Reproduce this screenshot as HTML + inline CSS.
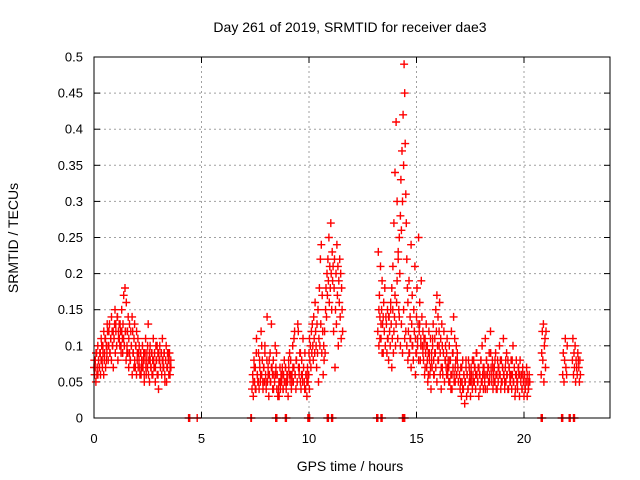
<!DOCTYPE html>
<html><head><meta charset="utf-8"><style>
body{margin:0;background:#fff}
svg{display:block;font-family:"Liberation Sans",sans-serif}
</style></head><body>
<svg id="chart" width="640" height="480" viewBox="0 0 640 480">
<text x="350" y="32" font-size="14" text-anchor="middle">Day 261 of 2019, SRMTID for receiver dae3</text>
<text x="18" y="238" font-size="14" text-anchor="middle" transform="rotate(-90 18 238)">SRMTID / TECUs</text>
<text x="350" y="471" font-size="14" text-anchor="middle">GPS time / hours</text>
<g id="grid"></g>
<g id="marks"></g>
<rect x="94" y="57" width="516" height="361" fill="none" stroke="#000"/>
</svg>
<script>
const xTicks=[0,5,10,15,20];
const yTicks=[0,0.05,0.1,0.15,0.2,0.25,0.3,0.35,0.4,0.45,0.5];
const yTickLabels=["0","0.05","0.1","0.15","0.2","0.25","0.3","0.35","0.4","0.45","0.5"];
const segStarts=[0,0.015,7.35,7.4,10.0,13.2,13.25,17.0,17.05,20.8,21.8,22.25];
const segSteps=[0.03,0.04,0.03,0.05,0.022,0.025,0.05,0.03,0.05,0.025,0.03,0.025];
const segA1=[0.07,0.06,0.08,0.05,0.09,0.07,0.06,0.08,0.07,0.09,0.06,0.08,0.10,0.07,0.09,0.06,0.08,0.11,0.07,0.10,0.09,0.12,0.08,0.10,0.13,0.09,0.11,0.08,0.12,0.10,0.07,0.11,0.13,0.09,0.12,0.10,0.14,0.08,0.11,0.13,0.10,0.12,0.09,0.15,0.11,0.13,0.17,0.10,0.18,0.12,0.16,0.09,0.12,0.14,0.11,0.13,0.08,0.12,0.10,0.14,0.12,0.09,0.11,0.13,0.07,0.10,0.12,0.08,0.11,0.09,0.10,0.07,0.09,0.06,0.08,0.10,0.07,0.09,0.05,0.08,0.11,0.06,0.09,0.07,0.13,0.08,0.05,0.10,0.07,0.09,0.06,0.08,0.11,0.07,0.09,0.05,0.10,0.08,0.06,0.09,0.04,0.08,0.10,0.07,0.09,0.06,0.11,0.08,0.07,0.09,0.05,0.08,0.10,0.07,0.09,0.08,0.06,0.09,0.07,0.08];
const segA2=[0.08,0.07,0.09,0.06,0.10,0.08,0.07,0.09,0.11,0.08,0.10,0.12,0.09,0.11,0.08,0.13,0.10,0.12,0.09,0.11,0.14,0.10,0.12,0.11,0.15,0.13,0.10,0.14,0.12,0.11,0.13,0.10,0.12,0.09,0.11,0.10,0.12,0.08,0.10,0.09,0.07,0.09,0.08,0.10,0.06,0.09,0.07,0.08,0.10,0.06,0.09,0.07,0.08,0.06,0.09,0.07,0.10,0.08,0.06,0.09,0.07,0.08,0.10,0.06,0.09,0.08,0.07,0.09,0.06,0.08,0.09,0.07,0.08,0.10,0.06,0.09,0.08,0.07,0.09,0.08,0.07,0.09,0.06,0.08,0.05,0.07,0.09,0.08,0.06,0.07];
const segB1=[0.04,0.06,0.03,0.08,0.05,0.07,0.04,0.11,0.06,0.05,0.09,0.04,0.07,0.05,0.12,0.06,0.08,0.04,0.07,0.05,0.10,0.06,0.04,0.08,0.05,0.07,0.03,0.06,0.09,0.05,0.13,0.07,0.04,0.08,0.06,0.05,0.10,0.07,0.09,0.06,0.03,0.04,0.03,0.05,0.04,0.06,0.05,0.07,0.04,0.06,0.08,0.05,0.07,0.04,0.06,0.05,0.03,0.07,0.06,0.05,0.08,0.04,0.06,0.10,0.05,0.07,0.12,0.06,0.04,0.08,0.05,0.13,0.07,0.06,0.09,0.05,0.04,0.08,0.06,0.11,0.07,0.05,0.09,0.04,0.06,0.03,0.07,0.05,0.06,0.04];
const segB2=[0.05,0.07,0.04,0.09,0.06,0.05,0.08,0.06,0.10,0.05,0.07,0.09,0.05,0.14,0.06,0.08,0.05,0.07,0.06,0.04,0.05,0.06,0.04,0.03,0.05,0.07,0.05,0.06,0.04,0.05,0.07,0.05,0.06,0.08,0.09,0.06,0.05,0.07,0.11,0.06,0.08,0.05,0.12,0.07,0.09,0.06,0.05,0.07,0.04,0.06,0.05,0.06];
const segC=[0.09,0.11,0.08,0.10,0.07,0.12,0.09,0.13,0.10,0.08,0.14,0.11,0.09,0.16,0.12,0.10,0.07,0.13,0.09,0.15,0.05,0.11,0.18,0.10,0.22,0.13,0.24,0.09,0.17,0.12,0.06,0.10,0.08,0.12,0.09,0.15,0.18,0.14,0.20,0.17,0.22,0.19,0.25,0.16,0.21,0.18,0.27,0.20,0.15,0.23,0.19,0.21,0.12,0.18,0.22,0.07,0.15,0.20,0.13,0.24,0.17,0.21,0.10,0.19,0.16,0.22,0.14,0.20,0.11,0.18,0.15,0.12];
const segD1=[0.12,0.23,0.10,0.17,0.14,0.21,0.11,0.15,0.19,0.13,0.09,0.16,0.12,0.18,0.10,0.14,0.13,0.09,0.15,0.11,0.08,0.14,0.12,0.10,0.16,0.13,0.07,0.11,0.15,0.09,0.12,0.14,0.17,0.10,0.13,0.16,0.19,0.11,0.22,0.15,0.25,0.20,0.28,0.33,0.26,0.37,0.30,0.42,0.35,0.49,0.45,0.38,0.31,0.27,0.22,0.18,0.16,0.12,0.19,0.09,0.14,0.11,0.24,0.13,0.17,0.10,0.08,0.15,0.12,0.21,0.11,0.09,0.14,0.18,0.10,0.13,0.25,0.12,0.16,0.08,0.11,0.19,0.14,0.10,0.12,0.08,0.10,0.06,0.11,0.09,0.13,0.07,0.10,0.05,0.09,0.12,0.08,0.06,0.11,0.04,0.09,0.07,0.10,0.13,0.08,0.06,0.11,0.09,0.15,0.12,0.17,0.10,0.14,0.08,0.12,0.16,0.09,0.11,0.07,0.13,0.10,0.06,0.09,0.12,0.05,0.08,0.10,0.07,0.09,0.11,0.06,0.08,0.07,0.10,0.05,0.08,0.06,0.12,0.04,0.09,0.07,0.14,0.06,0.11,0.05,0.08,0.10,0.06,0.09,0.07];
const segD2=[0.15,0.11,0.13,0.09,0.14,0.12,0.10,0.13,0.11,0.14,0.12,0.15,0.18,0.21,0.27,0.34,0.41,0.30,0.23,0.14,0.10,0.13,0.09,0.15,0.11,0.12,0.10,0.08,0.09,0.11,0.07,0.10,0.08,0.12,0.06,0.09,0.11,0.08,0.13,0.10,0.14,0.09,0.11,0.07,0.10,0.08,0.06,0.09,0.07,0.08,0.11,0.06,0.09,0.07,0.05,0.08,0.10,0.06,0.04,0.07,0.09,0.05,0.08,0.06,0.07,0.05,0.08,0.04,0.06,0.09,0.05,0.07,0.06,0.08,0.05];
const segE1=[0.06,0.04,0.07,0.03,0.05,0.08,0.04,0.06,0.02,0.05,0.07,0.03,0.06,0.04,0.08,0.05,0.06,0.03,0.07,0.05,0.04,0.06,0.08,0.05,0.07,0.04,0.09,0.06,0.05,0.07,0.03,0.06,0.04,0.08,0.05,0.10,0.06,0.04,0.07,0.05,0.11,0.06,0.08,0.04,0.07,0.05,0.09,0.06,0.12,0.07,0.05,0.08,0.04,0.06,0.07,0.05,0.09,0.04,0.06,0.08,0.05,0.07,0.10,0.06,0.04,0.08,0.05,0.07,0.11,0.06,0.04,0.07,0.05,0.09,0.06,0.08,0.04,0.07,0.06,0.05,0.08,0.04,0.06,0.10,0.05,0.07,0.03,0.06,0.08,0.05,0.04,0.07,0.06,0.03,0.08,0.05,0.06,0.04,0.07,0.05,0.03,0.06,0.04,0.05,0.07,0.03,0.05,0.04,0.06,0.05];
const segE2=[0.05,0.07,0.04,0.06,0.05,0.08,0.06,0.04,0.07,0.05,0.06,0.08,0.05,0.07,0.06,0.09,0.05,0.07,0.06,0.08,0.05,0.07,0.06,0.04,0.08,0.06,0.07,0.05,0.09,0.06,0.07,0.05,0.08,0.06,0.04,0.07,0.06,0.08,0.05,0.07,0.06,0.05,0.08,0.06,0.04,0.07,0.05,0.06,0.08,0.05,0.07,0.04,0.06,0.05,0.07,0.06,0.05,0.04,0.06,0.05,0.04,0.05,0.06,0.04,0.05];
const segF1=[0.06,0.09,0.12,0.08,0.13,0.05,0.10,0.11,0.07,0.12];
const segF2=[0.06,0.09,0.05,0.08,0.11,0.07,0.06,0.10];
const segF3=[0.08,0.11,0.06,0.09,0.07,0.10,0.05,0.08,0.07,0.06,0.09,0.08,0.07,0.05,0.08,0.06];
const zeroHours=[4.4,4.45,4.8,7.3,7.32,8.45,8.5,8.9,8.95,9.95,10.0,10.03,10.85,10.9,11.05,11.1,13.15,13.2,13.35,13.4,14.35,14.4,14.45,20.8,20.85,21.75,21.8,22.1,22.15,22.3,22.35];

const NS="http://www.w3.org/2000/svg";
const X0=94,X1=610,Y0=418,Y1=57,XMAX=24,YMAX=0.5;
function sx(h){return X0+(X1-X0)*h/XMAX;}
function sy(v){return Y0-(Y0-Y1)*v/YMAX;}
const grid=document.getElementById('grid'),marks=document.getElementById('marks');
function el(t,a,p){const e=document.createElementNS(NS,t);for(const k in a)e.setAttribute(k,a[k]);p.appendChild(e);return e;}
yTicks.forEach((v,i)=>{
  const y=sy(v);
  if(i>0&&i<yTicks.length-1){const g=el('line',{x1:X0,x2:X1,y1:y,y2:y,stroke:'#a0a0a0','stroke-dasharray':'2,3'},grid);
  
  }
  el('line',{x1:X0,x2:X0+6,y1:y,y2:y,stroke:'#000'},grid);
  el('line',{x1:X1-6,x2:X1,y1:y,y2:y,stroke:'#000'},grid);
  const t=el('text',{x:83,y:y+4.5,'font-size':13,'text-anchor':'end'},grid);
  t.textContent=yTickLabels[i];
  
  
});
xTicks.forEach(h=>{
  const x=sx(h);
  if(h>0){const g=el('line',{x1:x,x2:x,y1:Y0,y2:Y1,stroke:'#a0a0a0','stroke-dasharray':'2,3'},grid);
  
  }
  el('line',{x1:x,x2:x,y1:Y0,y2:Y0-6,stroke:'#000'},grid);
  el('line',{x1:x,x2:x,y1:Y1,y2:Y1+6,stroke:'#000'},grid);
  const t=el('text',{x:x,y:443,'font-size':13,'text-anchor':'middle'},grid);
  t.textContent=String(h);
  
  
});
const segVals=[segA1,segA2,segB1,segB2,segC,segD1,segD2,segE1,segE2,segF1,segF2,segF3];
let d='';
function plus(h,v){const x=sx(h),y=sy(v);d+=`M${(x-4).toFixed(1)} ${y.toFixed(1)}h8M${x.toFixed(1)} ${(y-4).toFixed(1)}v8`;}
segVals.forEach((arr,s)=>arr.forEach((v,i)=>plus(segStarts[s]+i*segSteps[s],v)));
zeroHours.forEach(h=>plus(h,0));
const p=el('path',{d:d,stroke:'#ff0000','stroke-width':1.4,fill:'none'},marks);


</script>
</body></html>
